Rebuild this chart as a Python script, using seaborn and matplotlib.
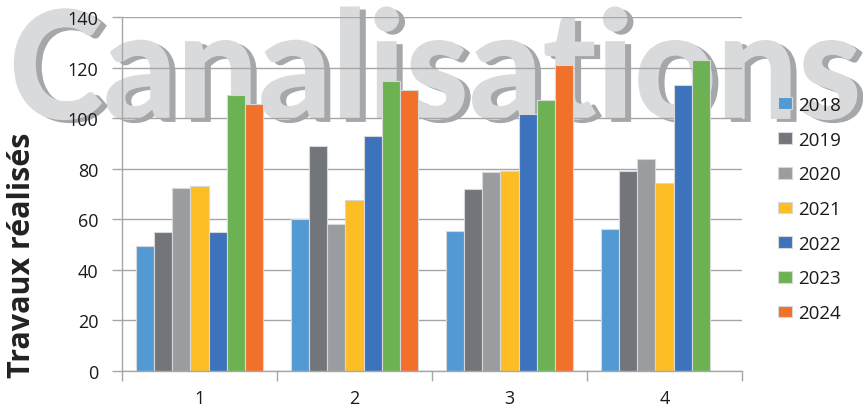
import numpy as np
import pandas as pd
import matplotlib
matplotlib.use("Agg")
import matplotlib.pyplot as plt
from matplotlib import patheffects as pe
from matplotlib.colors import to_rgba
from matplotlib.font_manager import FontProperties
from matplotlib.transforms import Affine2D
import seaborn as sns

# Données
groupes = ["1", "2", "3", "4"]
annees = ["2018", "2019", "2020", "2021", "2022", "2023", "2024"]
v2018 = [49.5, 60.0, 55.5, 56.0]
v2019 = [55.0, 89.0, 72.0, 79.0]
v2020 = [72.5, 58.0, 78.7, 84.0]
v2021 = [73.0, 67.5, 79.0, 74.5]
v2022 = [55.0, 93.0, 101.5, 113.0]
v2023 = [109.0, 114.5, 107.0, 123.0]
v2024 = [105.5, 111.0, 121.0, np.nan]
couleurs = ["#5399D3", "#72767A", "#9A9D9F", "#FDBE25", "#3D72BC", "#6CB253", "#F1712A"]

series = [v2018, v2019, v2020, v2021, v2022, v2023, v2024]
df = pd.DataFrame({
    "groupe": groupes * len(annees),
    "annee": np.repeat(annees, len(groupes)),
    "travaux": np.concatenate(series),
})

sns.set_theme(style="white")
plt.rcParams["font.family"] = ["Open Sans", "DejaVu Sans"]

W, H = 863, 410
DPI = 100


class Mapped(pe.AbstractPathEffect):
    """Draws the text path through an extra display-space affine, in a fixed colour."""

    def __init__(self, extra, color):
        super().__init__()
        self.extra = extra
        self.color = to_rgba(color)

    def draw_path(self, renderer, gc, tpath, affine, rgbFace=None):
        gc0 = renderer.new_gc()
        gc0.copy_properties(gc)
        gc0.set_linewidth(0)
        renderer.draw_path(gc0, tpath, affine + self.extra, self.color)
        gc0.restore()


# Titre : mesure de l'encre du texte, puis ajustement dans la boîte voulue
TITRE = "Canalisations"
fp_titre = FontProperties(family=["Lato", "DejaVu Sans"], weight="black")
FS = 100
TW, TH, AX_, AY_ = 2000, 600, 100, 300
tf = plt.figure(figsize=(TW / DPI, TH / DPI), dpi=DPI)
tf.text(AX_ / TW, AY_ / TH, TITRE, fontproperties=fp_titre, fontsize=FS,
        color="black", ha="left", va="baseline")
tf.canvas.draw()
img = np.asarray(tf.canvas.buffer_rgba())[:, :, :3]
mask = (img < 128).any(axis=2)
rows = np.where(mask.any(axis=1))[0]
cols = np.where(mask.any(axis=0))[0]
plt.close(tf)
left_rel = cols[0] - AX_
right_rel = cols[-1] + 1 - AX_
top_rel = (TH - rows[0]) - AY_
bot_rel = (TH - rows[-1] - 1) - AY_

# boîte cible (pixels depuis le haut) : x 15..857, y 7..121
bx0, bx1, by_top, by_bot = 15, 857, 7, 121
ax_x, ax_y = 15, H - 120
sx = (bx1 - bx0) / (right_rel - left_rel)
sy = (by_bot - by_top) / (top_rel - bot_rel)
ajuste = (Affine2D().translate(-(ax_x + left_rel), -(ax_y + bot_rel))
          .scale(sx, sy).translate(bx0, H - by_bot))

fig = plt.figure(figsize=(W / DPI, H / DPI), dpi=DPI)
titre = fig.text(ax_x / W, ax_y / H, TITRE, fontproperties=fp_titre, fontsize=FS,
                 color="#D9DADC", ha="left", va="baseline", zorder=0)
titre.set_path_effects([
    Mapped(ajuste + Affine2D().translate(6, -3), "#A5A7AA"),
    Mapped(ajuste, "#D9DADC"),
])

ax = fig.add_axes([122 / W, 38 / H, 620 / W, 354 / H])
ax.set_facecolor("none")
ax.set_zorder(2)

sns.barplot(data=df, x="groupe", y="travaux", hue="annee", order=groupes,
            hue_order=annees, palette=couleurs, saturation=1, width=0.82,
            errorbar=None, edgecolor="#D8D8D8", linewidth=0.8, ax=ax)

ax.set_xlim(-0.5, 3.5)
ax.set_ylim(0, 140)
ax.set_yticks(range(0, 141, 20))
ax.set_axisbelow(True)
ax.grid(axis="y", color="#A6A6A6", lw=1.0)
ax.grid(axis="x", visible=False)
for s in ["top", "right"]:
    ax.spines[s].set_visible(False)
for s in ["left", "bottom"]:
    ax.spines[s].set_color("#A6A6A6")
    ax.spines[s].set_linewidth(1.0)

ax.tick_params(axis="y", length=7, width=1, color="#A6A6A6", pad=10,
               labelsize=13, labelcolor="#1A1A1A", left=True)
ax.set_xticks(range(len(groupes)))
ax.set_xticklabels(groupes)
ax.tick_params(axis="x", which="major", length=0, pad=13, labelsize=13,
               labelcolor="#1A1A1A")
ax.set_xticks([-0.5, 0.5, 1.5, 2.5, 3.5], minor=True)
ax.tick_params(axis="x", which="minor", length=7, width=1, color="#A6A6A6",
               bottom=True)

ax.set_xlabel("")
ax.set_ylabel("Travaux réalisés", fontsize=22, weight="bold", color="#222222")
ax.yaxis.set_label_coords((22 - 122) / 620, (372 - 255) / 354)
ax.yaxis.label.set_va("center")

handles, labels = ax.get_legend_handles_labels()
if ax.get_legend() is not None:
    ax.get_legend().remove()
fig.legend(handles, labels, loc="upper left",
           bbox_to_anchor=(778 / W, 1 - 97 / H), frameon=False, fontsize=13.5,
           handlelength=0.75, handleheight=0.6, handletextpad=0.3,
           labelspacing=0.89, borderpad=0, borderaxespad=0,
           labelcolor="#1A1A1A")

fig.savefig("out.png", dpi=DPI)
